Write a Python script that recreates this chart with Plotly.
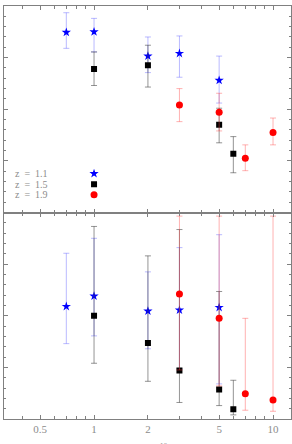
import math
import plotly.graph_objects as go
from plotly.subplots import make_subplots

# ---------------- data ----------------
# Top panel
top_z11_x = [0.7, 1, 2, 3, 5]
top_z11_y = [3.49, 3.50, 3.03, 3.08, 2.56]
top_z11_hi = [3.87, 3.76, 3.40, 3.42, 3.03]
top_z11_lo = [3.18, 3.11, 2.71, 2.62, 2.12]

top_z15_x = [1, 2, 5, 6]
top_z15_y = [2.78, 2.85, 1.70, 1.14]
top_z15_hi = [3.11, 3.24, 2.02, 1.47]
top_z15_lo = [2.46, 2.43, 1.35, 0.77]

top_z19_x = [3, 5, 7, 10]
top_z19_y = [2.08, 1.94, 1.05, 1.55]
top_z19_hi = [2.40, 2.31, 1.31, 1.83]
top_z19_lo = [1.76, 1.58, 0.81, 1.31]

# Bottom panel
bot_z11_x = [0.7, 1, 2, 3, 5]
bot_z11_y = [2.18, 2.38, 2.09, 2.11, 2.16]
bot_z11_hi = [3.21, 3.50, 2.85, 3.32, 3.57]
bot_z11_lo = [1.46, 1.61, 1.36, 0.97, 0.68]

bot_z15_x = [1, 2, 3, 5, 6]
bot_z15_y = [2.00, 1.47, 0.94, 0.57, 0.19]
bot_z15_hi = [3.73, 3.16, 3.67, 2.47, 0.75]
bot_z15_lo = [1.08, 0.73, 0.32, 0.26, 0.08]

bot_z19_x = [3, 5, 7, 10]
bot_z19_y = [2.42, 1.95, 0.49, 0.37]
bot_z19_hi = [3.93, 3.93, 1.95, 3.93]
bot_z19_lo = [0.95, 0.64, 0.17, 0.15]

legend_labels = ["z\u00a0\u00a0=\u00a0\u00a01.1", "z\u00a0\u00a0=\u00a0\u00a01.5", "z\u00a0\u00a0=\u00a0\u00a01.9"]
x_tick_vals = [0.5, 1, 2, 5, 10]
x_tick_text = ["0.5", "1", "2", "5", "10"]
x_minor_vals = [0.4, 0.6, 0.7, 0.8, 0.9, 3, 4, 6, 7, 8, 9]
x_title = "M<sub>*</sub>/M<sub>\u2299</sub>\u00a0 (10<sup>10</sup> M<sub>\u2299</sub>)"

# ---------------- style ----------------
FONT = "Liberation Serif"
GREY = "#808080"
LIGHT = "#8c8c8c"
series_style = {
    "z11": dict(symbol="star", size=7, color="#0000ff", err="rgba(90,90,255,0.42)"),
    "z15": dict(symbol="square", size=6, color="#000000", err="rgba(60,60,60,0.55)"),
    "z19": dict(symbol="circle", size=7, color="#ff0000", err="rgba(255,70,70,0.42)"),
}
# legend key layout (axis units of the top panel)
LEGEND_TEXT_X = 0.031
LEGEND_KEY_X = 1
LEGEND_Y = [0.754, 0.547, 0.342]

fig = make_subplots(rows=2, cols=1, shared_xaxes=True, vertical_spacing=0)


def add_series(row, key, xs, ys, hi, lo):
    st = series_style[key]
    fig.add_trace(
        go.Scatter(
            x=xs, y=ys, mode="markers",
            marker=dict(symbol=st["symbol"], size=st["size"], color=st["color"], line=dict(width=0)),
            error_y=dict(
                type="data", symmetric=False,
                array=[h - y for h, y in zip(hi, ys)],
                arrayminus=[y - l for l, y in zip(lo, ys)],
                color=st["err"], thickness=1, width=3,
            ),
            showlegend=False,
            cliponaxis=True,
            hoverinfo="skip",
        ),
        row=row, col=1,
    )


add_series(1, "z11", top_z11_x, top_z11_y, top_z11_hi, top_z11_lo)
add_series(1, "z15", top_z15_x, top_z15_y, top_z15_hi, top_z15_lo)
add_series(1, "z19", top_z19_x, top_z19_y, top_z19_hi, top_z19_lo)
add_series(2, "z11", bot_z11_x, bot_z11_y, bot_z11_hi, bot_z11_lo)
add_series(2, "z15", bot_z15_x, bot_z15_y, bot_z15_hi, bot_z15_lo)
add_series(2, "z19", bot_z19_x, bot_z19_y, bot_z19_hi, bot_z19_lo)

# legend keys (symbols on the right, text on the left)
for key, ly in zip(["z11", "z15", "z19"], LEGEND_Y):
    st = series_style[key]
    fig.add_trace(
        go.Scatter(x=[LEGEND_KEY_X], y=[ly], mode="markers",
                   marker=dict(symbol=st["symbol"], size=st["size"], color=st["color"], line=dict(width=0)),
                   showlegend=False, hoverinfo="skip"),
        row=1, col=1,
    )
for txt, ly in zip(legend_labels, LEGEND_Y):
    fig.add_annotation(text=txt, xref="x domain", yref="y", x=LEGEND_TEXT_X, y=ly,
                       xanchor="left", yanchor="middle", showarrow=False,
                       font=dict(family=FONT, size=10, color=LIGHT))

xr = [math.log10(0.314), math.log10(12.6)]
common_x = dict(
    type="log", range=xr, showgrid=False, zeroline=False,
    showline=True, linecolor=GREY, linewidth=1, mirror="ticks",
    ticks="inside", ticklen=4, tickcolor=GREY, tickwidth=1,
    tickmode="array", tickvals=x_tick_vals, ticktext=x_tick_text,
    minor=dict(tickmode="array", tickvals=x_minor_vals, ticks="inside", ticklen=3,
               tickcolor=GREY, tickwidth=1, showgrid=False),
    tickfont=dict(family=FONT, size=11, color=LIGHT),
)
common_y = dict(
    range=[0, 4], showgrid=False, zeroline=False,
    showline=True, linecolor=GREY, linewidth=1, mirror="ticks",
    ticks="inside", ticklen=4, tickcolor=GREY, tickwidth=1,
    tickmode="linear", tick0=0, dtick=1, showticklabels=False,
    minor=dict(ticks="inside", ticklen=2, dtick=0.2, tick0=0, tickcolor=GREY, tickwidth=1, showgrid=False),
)
fig.update_xaxes(**common_x)
fig.update_xaxes(showticklabels=False, row=1, col=1)
fig.update_xaxes(showticklabels=True, row=2, col=1)
fig.update_yaxes(**common_y)

fig.add_annotation(text=x_title, xref="paper", yref="paper", x=0.505, y=-0.052,
                   xanchor="center", yanchor="top", showarrow=False,
                   font=dict(family=FONT, size=11, color=LIGHT))

fig.update_layout(
    width=292, height=444,
    margin=dict(l=4, r=1, t=6, b=25),
    paper_bgcolor="white", plot_bgcolor="white",
    showlegend=False,
    hovermode=False,
)

fig.write_html("out.html", config={"displayModeBar": False, "staticPlot": True},
               post_script="document.body.style.margin='0';document.body.style.padding='0';")
